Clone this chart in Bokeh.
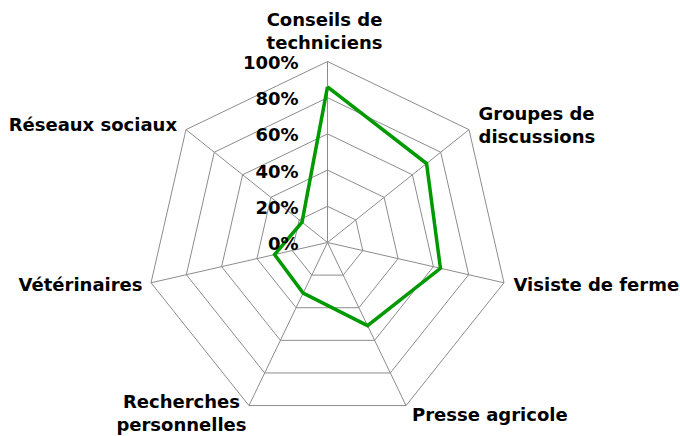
import math
from bokeh.plotting import figure
from bokeh.models import ColumnDataSource
from bokeh.core.properties import value
from bokeh.embed import file_html
from bokeh.resources import INLINE

# ---- data ----
categories = ["Conseils de\ntechniciens", "Groupes de\ndiscussions", "Visiste de ferme",
              "Presse agricole", "Recherches\npersonnelles", "Vétérinaires", "Réseaux sociaux"]
values = [0.86, 0.70, 0.64, 0.51, 0.31, 0.30, 0.18]
ticks = [0.0, 0.2, 0.4, 0.6, 0.8, 1.0]
tick_labels = ["0%", "20%", "40%", "60%", "80%", "100%"]

# ---- layout ----
W, H = 680, 436
CX, CY = 327, 194          # centre of the radar in figure units (1 unit = 1 px)
R = 181
FONT = value("DejaVu Sans")
FS = "18px"
LABEL_SHIFT = 7

def ang(k):
    return math.pi / 2 - 2 * math.pi * k / len(categories)

def pt(k, r):
    a = ang(k)
    return CX + R * r * math.cos(a), CY + R * r * math.sin(a)

p = figure(width=W, height=H, x_range=(0, W), y_range=(0, H),
           output_backend="svg", toolbar_location=None, min_border=0)
p.axis.visible = False
p.grid.visible = False
p.outline_line_color = None
p.background_fill_color = "white"

n = len(categories)
GRID = "#8c8c8c"
# concentric heptagons
for t in ticks[1:]:
    xs = [pt(k, t)[0] for k in range(n)] + [pt(0, t)[0]]
    ys = [pt(k, t)[1] for k in range(n)] + [pt(0, t)[1]]
    p.line(xs, ys, line_color=GRID, line_width=1)
# spokes
p.multi_line([[CX, pt(k, 1)[0]] for k in range(n)], [[CY, pt(k, 1)[1]] for k in range(n)],
             line_color=GRID, line_width=1)

# data polygon
dx = [pt(k, v)[0] for k, v in enumerate(values)] + [pt(0, values[0])[0]]
dy = [pt(k, v)[1] for k, v in enumerate(values)] + [pt(0, values[0])[1]]
p.line(dx, dy, line_color="#009900", line_width=3.5, line_join="miter")

# percentage labels along the top spoke
src = ColumnDataSource(dict(x=[CX - 29] * len(ticks), y=[CY + R * t - 1 for t in ticks], t=tick_labels))
p.text("x", "y", text="t", source=src, text_align="right", text_baseline="middle",
       text_font=FONT, text_font_size=FS, text_font_style="bold", text_color="black")

# category labels: (dx, dy of first baseline from vertex, align)
label_layout = [(-3, 35, "center"), (9.5, 9, "left"), (9.5, -9, "left"), (6, -16, "left"),
                (-67.5, -3, "center"), (-8.5, -9, "right"), (-9, -1.6, "right")]
LH = 23
lx, ly, lt, la = [], [], [], []
for k, cat in enumerate(categories):
    vx, vy = pt(k, 1)
    ox, oy, al = label_layout[k]
    for i, line in enumerate(cat.split("\n")):
        lx.append(vx + ox)
        ly.append(vy + oy + LABEL_SHIFT - i * LH)
        lt.append(line)
        la.append(al)
lsrc = ColumnDataSource(dict(x=lx, y=ly, t=lt, a=la))
p.text("x", "y", text="t", source=lsrc, text_align="a", text_baseline="alphabetic",
       text_font=FONT, text_font_size=FS, text_font_style="bold", text_color="black")

open("out.html", "w").write(file_html(p, INLINE))
